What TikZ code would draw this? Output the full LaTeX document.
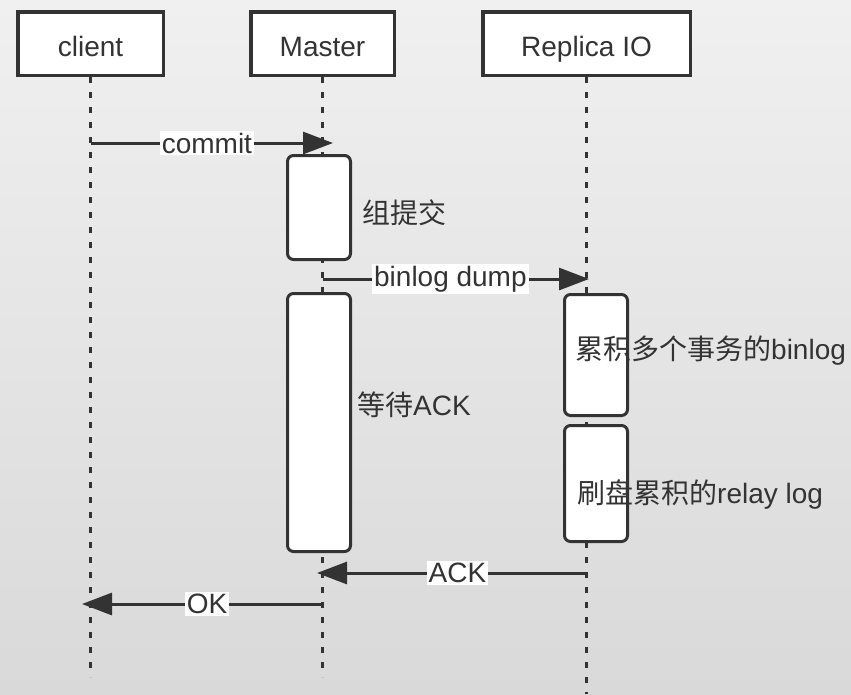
\documentclass[tikz,border=0pt]{standalone}
\usepackage{fontspec}
\setmainfont{Liberation Sans}
\newfontfamily\zh{Noto Sans CJK SC}
\usetikzlibrary{arrows.meta}
\definecolor{ink}{HTML}{333333}
\definecolor{bgtop}{HTML}{F0F0F0}
\definecolor{bgbot}{HTML}{D9D9D9}

\begin{document}
\begin{tikzpicture}[x=1pt,y=-1pt,
  font=\fontsize{28}{34}\selectfont, text=ink,
  actor/.style={draw=ink,line width=3.5pt,fill=white,minimum height=63.5pt,inner sep=0pt,
    text height=25pt,text depth=0pt},
  lifeline/.style={draw=ink,line width=3.5pt,dash pattern=on 6pt off 9pt},
  act/.style={draw=ink,line width=3pt,fill=white,rounded corners=6pt,minimum width=63pt,inner sep=0pt},
  msg/.style={draw=ink,line width=3pt,-{Triangle[length=30pt,width=22pt]}},
  lbl/.style={fill=white,inner sep=2pt,pos=.48},
  remark/.style={anchor=west,inner sep=0pt}]
\useasboundingbox (0,0) rectangle (851,694);
\shade[top color=bgtop,bottom color=bgbot] (0,0) rectangle (851,694);
%
% participants
\node[actor,minimum width=145.5pt] (client) at (90.5,43.5) {client};
\node[actor,minimum width=143.5pt] (master) at (322.5,43.5) {Master};
\node[actor,minimum width=207.5pt] (replica) at (586.5,43.5) {Replica IO};
%
\coordinate (clientEnd) at (90.5,677);
\coordinate (masterEnd) at (322.5,677);
\coordinate (replicaEnd) at (586.5,694);
\draw[lifeline] (client.south) -- (clientEnd);
\draw[lifeline] (master.south) -- (masterEnd);
\draw[lifeline] (replica.south) -- (replicaEnd);
%
% activations
\node[act,minimum height=104pt] (group) at (319,207.5) {};
\node[act,minimum height=258pt] (wait) at (319,422.5) {};
\node[act,minimum height=121pt] (accum) at (596,355) {};
\node[act,minimum height=116pt] (flush) at (596,483.5) {};
%
% messages
\coordinate (commitS) at (90.5,143);
\coordinate (commitE) at (333,143);
\draw[msg] (commitS) -- node[lbl]{commit} (commitE);
%
\coordinate (dumpS) at (322.5,279);
\coordinate (dumpE) at (589,279);
\draw[msg] (dumpS) -- node[lbl]{binlog dump} (dumpE);
%
\coordinate (ackS) at (587,573);
\coordinate (ackE) at (317,573);
\draw[msg] (ackS) -- node[lbl]{ACK} (ackE);
%
\coordinate (okS) at (322.5,604);
\coordinate (okE) at (82,604);
\draw[msg] (okS) -- node[lbl]{OK} (okE);
%
% notes beside the activations
\node[remark] (groupTxt) at (362,213) {\zh 组提交};
\node[remark] (waitTxt) at (357,405) {{\zh 等待}ACK};
\node[remark] (accumTxt) at (575,351) {{\zh 累积多个事务的}binlog};
\node[remark] (flushTxt) at (577,494) {{\zh 刷盘累积的}relay log};
\end{tikzpicture}
\end{document}
